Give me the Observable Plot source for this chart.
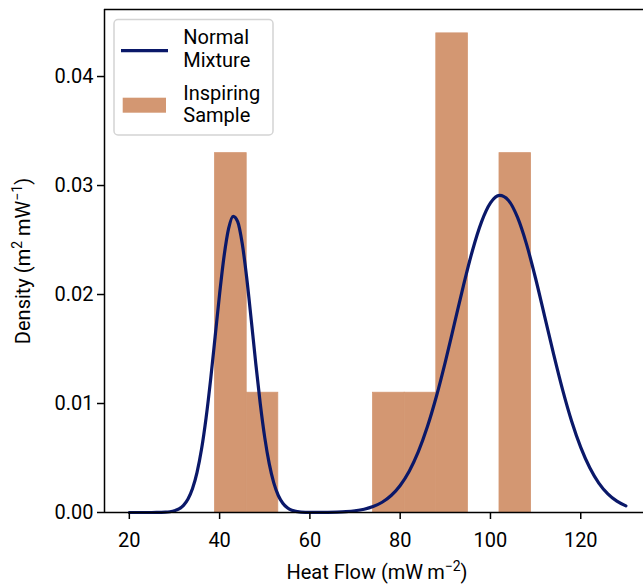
<!DOCTYPE html>
<html>
<head>
<meta charset="utf-8">
<script src="https://cdn.jsdelivr.net/npm/d3@7"></script>
<script src="https://cdn.jsdelivr.net/npm/@observablehq/plot@0.6"></script>
<style>
  html, body { margin: 0; padding: 0; background: white; }
  #chart { width: 643px; height: 587px; overflow: hidden; }
</style>
</head>
<body>
<div id="chart"></div>
<script>
// Histogram ("Inspiring Sample"): bin edges and densities
const binEdges = [39, 46, 53, 60, 67, 74, 81, 88, 95, 102, 109];
const binDensity = [0.03297, 0.01099, 0, 0, 0, 0.01099, 0.01099, 0.04396, 0, 0.03297];

// Normal mixture curve
const curveX = [20,22,24,26,28,29,30,31,32,33,34,35,36,37,38,39,40,41,42,43,44,45,46,47,48,49,50,51,52,53,54,55,56,58,60,62,64,66,68,70,72,74,76,78,80,82,84,86,88,90,92,94,96,98,100,102,104,106,108,110,112,114,116,118,120,122,124,126,128,130];
const curveY = [0,0,0,0.000004,0.000028,0.000068,0.000153,0.000325,0.000652,0.001232,0.002194,0.00368,0.00582,0.00867,0.01217,0.0161,0.02006,0.02355,0.02606,0.02717,0.02669,0.0247,0.02154,0.0177,0.01371,0.01,0.00687,0.00446,0.00272,0.00156,0.000847,0.000432,0.000208,0.000042,0.000004,0.000009,0.00002,0.000042,0.000084,0.000163,0.000304,0.000546,0.00094,0.001557,0.002476,0.003784,0.005555,0.007837,0.01062,0.01383,0.0173,0.0208,0.02402,0.02664,0.0284,0.02909,0.02863,0.02707,0.0246,0.02147,0.018,0.01451,0.01123,0.00835,0.00597,0.0041,0.0027,0.00171,0.00104,0.00061];

const xTicks = [20, 40, 60, 80, 100, 120];
const yTicks = [0, 0.01, 0.02, 0.03, 0.04];
const legendLabels = [["Normal", "Mixture"], ["Inspiring", "Sample"]];

const lineColor = "#0a1869";
const barColor = "#d39772";
const xDomain = [14.5, 133.9];
const yDomain = [0, 0.04615];

const bins = binDensity.map((d, i) => ({x1: binEdges[i], x2: binEdges[i + 1], y: d}));
const curve = curveX.map((x, i) => ({x, y: curveY[i]}));

const chart = Plot.plot({
  width: 643,
  height: 587,
  marginLeft: 104,
  marginRight: 0,
  marginTop: 9,
  marginBottom: 75,
  style: {fontFamily: "Roboto", fontSize: "20px", color: "black", background: "white"},
  x: {domain: xDomain},
  y: {domain: yDomain},
  marks: [
    Plot.rectY(bins.filter(b => b.y > 0), {x1: "x1", x2: "x2", y: "y", fill: barColor, stroke: barColor, strokeWidth: 0.8}),
    Plot.line(curve, {x: "x", y: "y", stroke: lineColor, strokeWidth: 3.2, curve: "monotone-x"}),
    Plot.ruleX([xDomain[0]], {stroke: "black", strokeWidth: 1.5}),
    Plot.ruleY([yDomain[0]], {stroke: "black", strokeWidth: 1.5}),
    Plot.ruleY([yDomain[1]], {stroke: "black", strokeWidth: 1.5}),
    Plot.axisX({ticks: xTicks, tickSize: 7, tickPadding: 13, strokeWidth: 1.5, label: null, fontSize: 20}),
    Plot.axisY({ticks: yTicks, tickSize: 7, tickPadding: 4, strokeWidth: 1.5, label: null, fontSize: 20, tickFormat: d3.format(".2f")})
  ]
});

document.getElementById("chart").appendChild(chart);

const svg = d3.select(chart);
// Axis labels
const xl = svg.append("text")
  .attr("x", 377).attr("y", 579)
  .attr("text-anchor", "middle")
  .attr("font-size", 20).attr("fill", "black");
xl.append("tspan").text("Heat Flow (mW\u2009m");
xl.append("tspan").attr("font-size", 14).attr("dy", -8).text("\u22122");
xl.append("tspan").attr("dy", 8).text(")");

const yl = svg.append("text")
  .attr("transform", "translate(29.5,261) rotate(-90)")
  .attr("text-anchor", "middle")
  .attr("font-size", 20).attr("fill", "black");
yl.append("tspan").text("Density (m");
yl.append("tspan").attr("font-size", 14).attr("dy", -8).text("2");
yl.append("tspan").attr("dy", 8).text(" mW");
yl.append("tspan").attr("font-size", 14).attr("dy", -8).text("\u22121");
yl.append("tspan").attr("dy", 8).text(")");

// Legend
const lg = svg.append("g").attr("text-anchor", "start");
lg.append("rect").attr("x", 114).attr("y", 19.5).attr("width", 159).attr("height", 115.5)
  .attr("rx", 4).attr("fill", "white").attr("fill-opacity", 0.8)
  .attr("stroke", "#d4d4d4").attr("stroke-width", 1.5);
lg.append("line").attr("x1", 121).attr("x2", 168).attr("y1", 50.7).attr("y2", 50.7)
  .attr("stroke", lineColor).attr("stroke-width", 3.2);
lg.append("rect").attr("x", 122.7).attr("y", 97.7).attr("width", 43.3).attr("height", 15)
  .attr("fill", barColor);
const baselines = [[44.3, 66.7], [99.8, 122.2]];
legendLabels.forEach((lines, i) => {
  lines.forEach((t, j) => {
    lg.append("text").attr("x", 183.3).attr("y", baselines[i][j])
      .attr("text-anchor", "start")
      .attr("font-size", 20).attr("fill", "black").text(t);
  });
});
</script>
</body>
</html>
